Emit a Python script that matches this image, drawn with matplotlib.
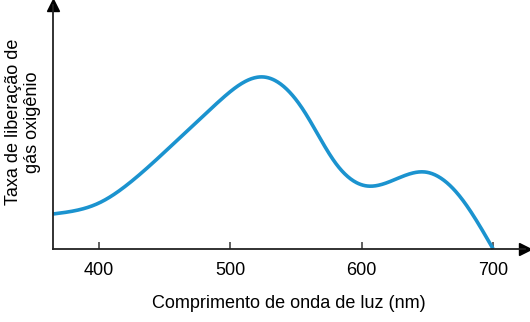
import numpy as np
import matplotlib.pyplot as plt

plt.rcParams['font.family'] = ['Liberation Sans', 'DejaVu Sans']

# comprimento de onda (nm) e taxa relativa (unidades arbitrárias)
wavelength = [365, 400, 426, 450, 490, 525, 555, 580, 604, 648, 675, 700]
rate = [35, 46, 69, 97, 146, 172, 140, 86, 63, 77, 52, 0]
xticks = [400, 500, 600, 700]


# spline cúbica natural só para desenhar a curva suave
def spline(x, y, n=600):
    x = np.asarray(x, float)
    y = np.asarray(y, float)
    k = len(x)
    h = np.diff(x)
    A = np.zeros((k, k))
    b = np.zeros(k)
    A[0, 0] = A[-1, -1] = 1
    for i in range(1, k - 1):
        A[i, i - 1] = h[i - 1]
        A[i, i] = 2 * (h[i - 1] + h[i])
        A[i, i + 1] = h[i]
        b[i] = 3 * ((y[i + 1] - y[i]) / h[i] - (y[i] - y[i - 1]) / h[i - 1])
    c = np.linalg.solve(A, b)
    xs = np.linspace(x[0], x[-1], n)
    j = np.clip(np.searchsorted(x, xs) - 1, 0, k - 2)
    d = xs - x[j]
    bj = (y[j + 1] - y[j]) / h[j] - h[j] * (2 * c[j] + c[j + 1]) / 3
    dj = (c[j + 1] - c[j]) / (3 * h[j])
    return xs, y[j] + bj * d + c[j] * d ** 2 + dj * d ** 3


fig = plt.figure(figsize=(5.3, 3.22), dpi=100)
ax = fig.add_axes([0.1, 0.2267, 0.89, 0.758])

sx, sy = spline(wavelength, rate)
ax.plot(sx, sy, color='#1b93cf', lw=2.6, solid_capstyle='butt', clip_on=False)

ax.set_xlim(365, 724)
ax.set_ylim(0, 244)
for s in ('top', 'right'):
    ax.spines[s].set_visible(False)
for s in ('left', 'bottom'):
    ax.spines[s].set_color('#222222')
    ax.spines[s].set_linewidth(1.3)

# setas nos eixos
ax.plot(1, 0, '>', color='black', ms=8, transform=ax.transAxes, clip_on=False)
ax.plot(0, 1, '^', color='black', ms=8, transform=ax.transAxes, clip_on=False)

ax.set_xticks(xticks)
ax.set_xticklabels([str(v) for v in xticks], fontsize=13)
ax.tick_params(axis='x', direction='in', length=5, width=1.2, color='#444444', pad=9)
ax.set_yticks([])

ax.set_xlabel('Comprimento de onda de luz (nm)', fontsize=13, labelpad=12)
ax.set_ylabel('Taxa de liberação de\ngás oxigênio', fontsize=13, linespacing=1.1)
ax.yaxis.set_label_coords(-0.026, 0.52)

plt.savefig('out.png', dpi=100)
